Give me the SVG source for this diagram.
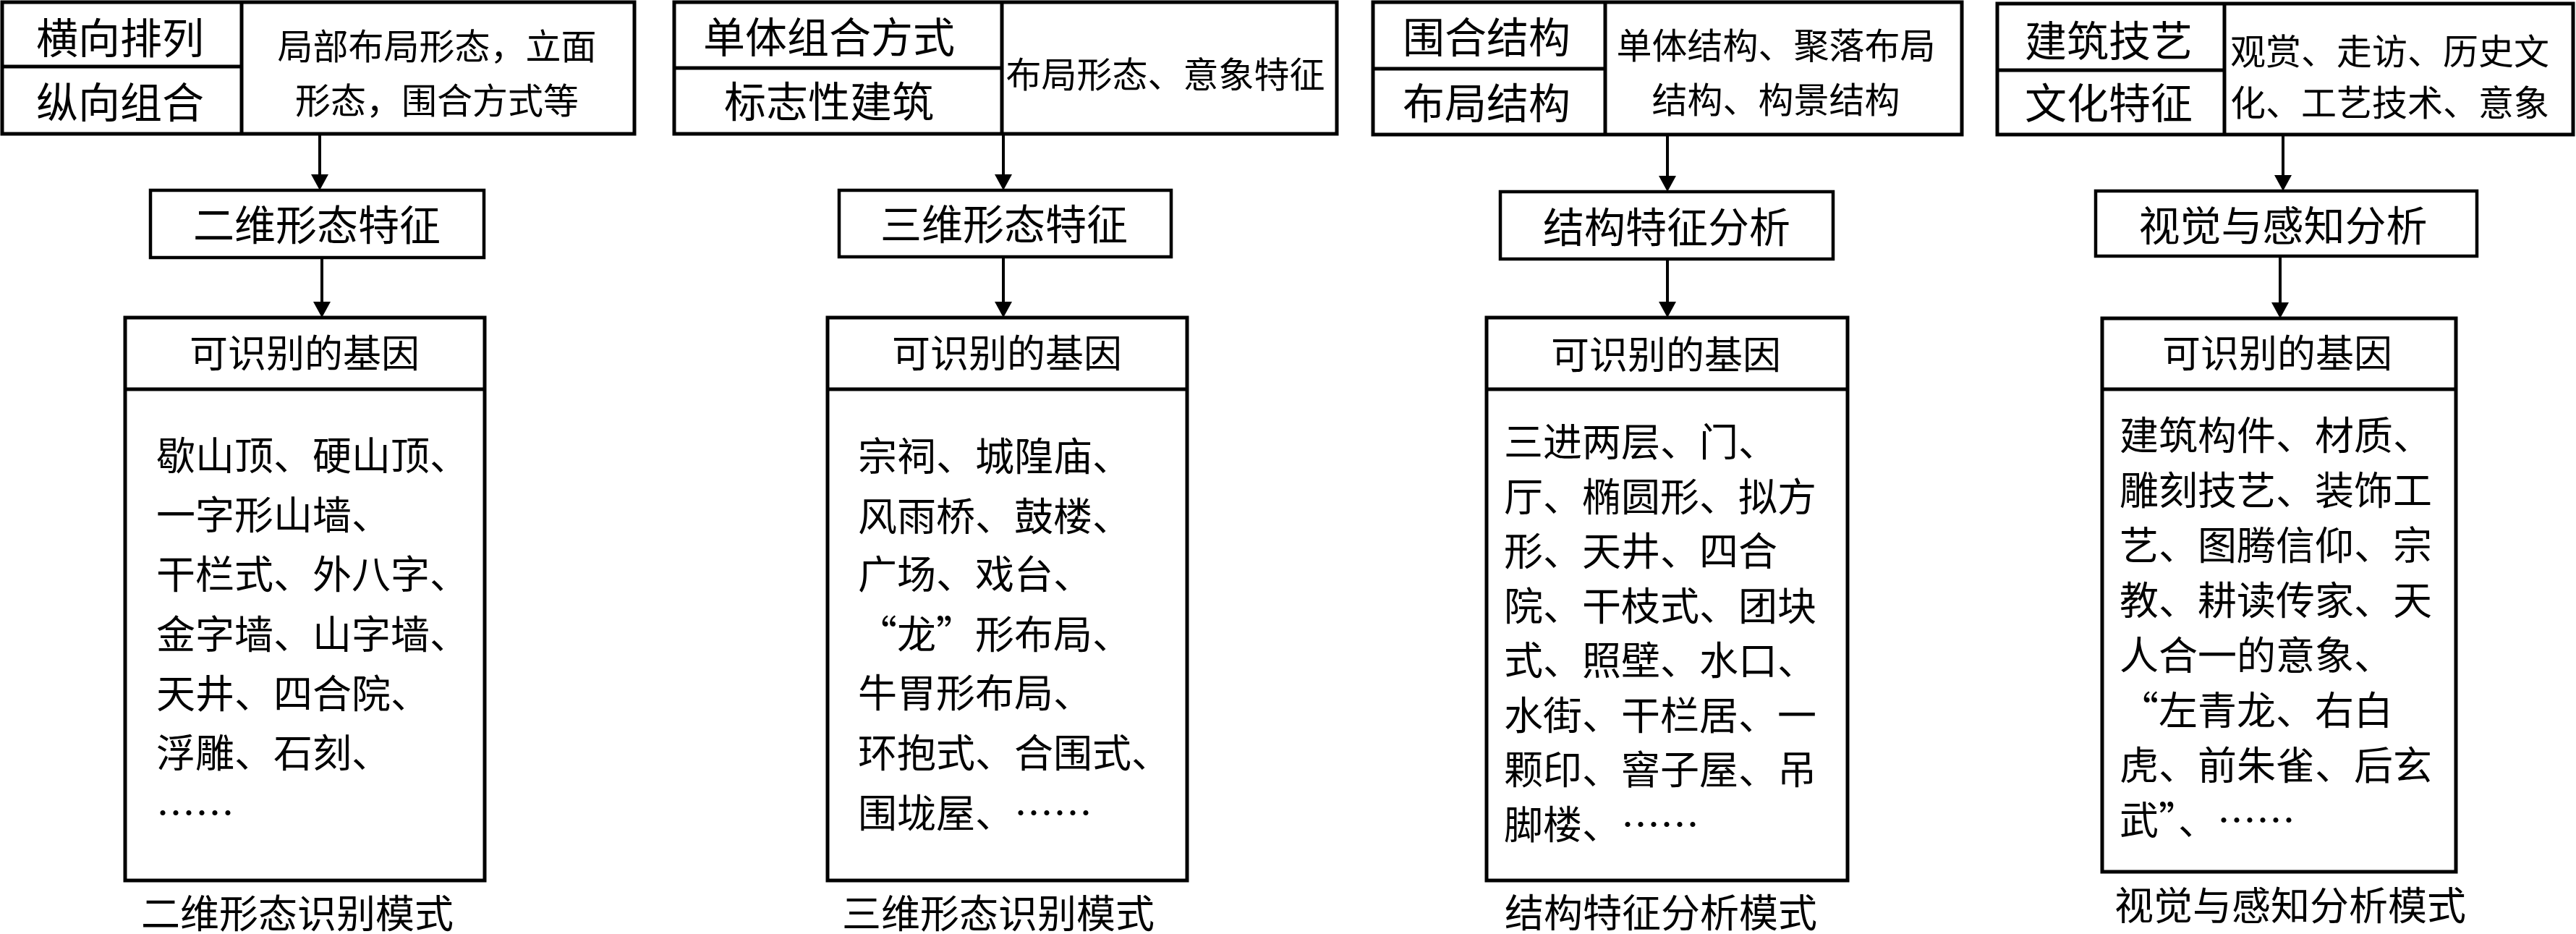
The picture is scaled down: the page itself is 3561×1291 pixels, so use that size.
<svg xmlns="http://www.w3.org/2000/svg" width="3561" height="1291" viewBox="0 0 3561 1291">
<defs>
<style>
.bg{fill:#fff}
.box{fill:#fff;stroke:#000;stroke-width:5}
.fbox{fill:#fff;stroke:#000;stroke-width:4.5}
.div{stroke:#000;stroke-width:5;fill:none}
.con{stroke:#000;stroke-width:4;fill:none}
text{font-family:"Liberation Serif","Noto Sans CJK SC",serif;fill:#000}
.cj{font-family:"Noto Sans CJK SC",sans-serif}
.k{font-size:58px;text-anchor:middle}
.d{font-size:49px}
.dm{font-size:49px;text-anchor:middle}
.f{font-size:57px;text-anchor:middle}
.h{font-size:53px;text-anchor:middle}
.b{font-size:54px}
.c{font-size:54px;text-anchor:middle}
</style>
<marker id="ah" markerUnits="userSpaceOnUse" markerWidth="22" markerHeight="24" viewBox="0 0 22 24" refX="12" refY="12" orient="auto"><path d="M0,0 L22,12 L0,24 z" fill="#000"/></marker>
</defs>
<rect class="bg" x="0" y="0" width="3561" height="1291"/>

<!-- Column 1 -->
<g id="top1">
<rect class="box" x="3" y="3" width="874" height="182"/>
<line class="div" x1="334" y1="3" x2="334" y2="185"/>
<line class="div" x1="3" y1="92" x2="334" y2="92"/>
<text class="k" x="166" y="74">横向排列</text>
<text class="k" x="166" y="163">纵向组合</text>
<text class="dm" x="604" y="82">局部布局形态，立面</text>
<text class="dm" x="604" y="157">形态，围合方式等</text>
</g>
<g id="feat1">
<rect class="fbox" x="208" y="263" width="461" height="93"/>
<text class="f" x="438" y="332">二维形态特征</text>
</g>
<g id="gene1">
<rect class="box" x="173" y="439" width="497" height="778"/>
<line class="div" x1="173" y1="538" x2="670" y2="538"/>
<text class="h" x="421" y="508">可识别的基因</text>
<text class="b" x="216" y="650">歇山顶、硬山顶、</text>
<text class="b" x="216" y="732">一字形山墙、</text>
<text class="b" x="216" y="814">干栏式、外八字、</text>
<text class="b" x="216" y="897">金字墙、山字墙、</text>
<text class="b" x="216" y="979">天井、四合院、</text>
<text class="b" x="216" y="1061">浮雕、石刻、</text>
<text class="b" x="216" y="1144"><tspan class="cj">……</tspan></text>
</g>
<g id="cap1"><text class="c" x="411" y="1283">二维形态识别模式</text></g>

<!-- Column 2 -->
<g id="top2">
<rect class="box" x="932" y="3" width="916" height="182"/>
<line class="div" x1="1385" y1="3" x2="1385" y2="185"/>
<line class="div" x1="932" y1="94" x2="1385" y2="94"/>
<text class="k" x="1146" y="73">单体组合方式</text>
<text class="k" x="1146" y="162">标志性建筑</text>
<text class="dm" x="1611" y="121">布局形态、意象特征</text>
</g>
<g id="feat2">
<rect class="fbox" x="1160" y="263" width="459" height="92"/>
<text class="f" x="1388" y="331">三维形态特征</text>
</g>
<g id="gene2">
<rect class="box" x="1144" y="439" width="497" height="778"/>
<line class="div" x1="1144" y1="538" x2="1641" y2="538"/>
<text class="h" x="1392" y="508">可识别的基因</text>
<text class="b" x="1186" y="651">宗祠、城隍庙、</text>
<text class="b" x="1186" y="734">风雨桥、鼓楼、</text>
<text class="b" x="1186" y="814">广场、戏台、</text>
<text class="b" x="1186" y="897"><tspan class="cj">“</tspan>龙<tspan class="cj">”</tspan>形布局、</text>
<text class="b" x="1186" y="978">牛胃形布局、</text>
<text class="b" x="1186" y="1061">环抱式、合围式、</text>
<text class="b" x="1186" y="1144">围垅屋、<tspan class="cj">……</tspan></text>
</g>
<g id="cap2"><text class="c" x="1380" y="1283">三维形态识别模式</text></g>

<!-- Column 3 -->
<g id="top3">
<rect class="box" x="1898" y="3" width="814" height="183"/>
<line class="div" x1="2219" y1="3" x2="2219" y2="186"/>
<line class="div" x1="1898" y1="95" x2="2219" y2="95"/>
<text class="k" x="2055" y="73">围合结构</text>
<text class="k" x="2055" y="164">布局结构</text>
<text class="dm" x="2455" y="81">单体结构、聚落布局</text>
<text class="dm" x="2455" y="156">结构、构景结构</text>
</g>
<g id="feat3">
<rect class="fbox" x="2074" y="265" width="460" height="93"/>
<text class="f" x="2304" y="335">结构特征分析</text>
</g>
<g id="gene3">
<rect class="box" x="2055" y="439" width="499" height="778"/>
<line class="div" x1="2055" y1="538" x2="2554" y2="538"/>
<text class="h" x="2303" y="510">可识别的基因</text>
<text class="b" x="2079" y="631">三进两层、门、</text>
<text class="b" x="2079" y="707">厅、椭圆形、拟方</text>
<text class="b" x="2079" y="782">形、天井、四合</text>
<text class="b" x="2079" y="858">院、干枝式、团块</text>
<text class="b" x="2079" y="933">式、照壁、水口、</text>
<text class="b" x="2079" y="1009">水街、干栏居、一</text>
<text class="b" x="2079" y="1084">颗印、窨子屋、吊</text>
<text class="b" x="2079" y="1160">脚楼、<tspan class="cj">……</tspan></text>
</g>
<g id="cap3"><text class="c" x="2296" y="1282">结构特征分析模式</text></g>

<!-- Column 4 -->
<g id="top4">
<rect class="box" x="2761" y="5" width="796" height="181"/>
<line class="div" x1="3075" y1="5" x2="3075" y2="186"/>
<line class="div" x1="2761" y1="97" x2="3075" y2="97"/>
<text class="k" x="2915" y="78">建筑技艺</text>
<text class="k" x="2915" y="164">文化特征</text>
<text class="d" x="3083" y="89">观赏、走访、历史文</text>
<text class="d" x="3083" y="160">化、工艺技术、意象</text>
</g>
<g id="feat4">
<rect class="fbox" x="2897" y="264" width="527" height="90"/>
<text class="f" x="3156" y="333">视觉与感知分析</text>
</g>
<g id="gene4">
<rect class="box" x="2906" y="440" width="489" height="765"/>
<line class="div" x1="2906" y1="538" x2="3395" y2="538"/>
<text class="h" x="3148" y="508">可识别的基因</text>
<text class="b" x="2930" y="622">建筑构件、材质、</text>
<text class="b" x="2930" y="698">雕刻技艺、装饰工</text>
<text class="b" x="2930" y="774">艺、图腾信仰、宗</text>
<text class="b" x="2930" y="850">教、耕读传家、天</text>
<text class="b" x="2930" y="926">人合一的意象、</text>
<text class="b" x="2930" y="1002"><tspan class="cj">“</tspan>左青龙、右白</text>
<text class="b" x="2930" y="1078">虎、前朱雀、后玄</text>
<text class="b" x="2930" y="1154">武<tspan class="cj">”</tspan>、<tspan class="cj">……</tspan></text>
</g>
<g id="cap4"><text class="c" x="3166" y="1272">视觉与感知分析模式</text></g>

<!-- Connectors -->
<g id="connectors">
<line class="con" x1="442" y1="185" x2="442" y2="253" marker-end="url(#ah)"/>
<line class="con" x1="445" y1="356" x2="445" y2="429" marker-end="url(#ah)"/>
<line class="con" x1="1387" y1="185" x2="1387" y2="253" marker-end="url(#ah)"/>
<line class="con" x1="1387" y1="355" x2="1387" y2="429" marker-end="url(#ah)"/>
<line class="con" x1="2305" y1="186" x2="2305" y2="255" marker-end="url(#ah)"/>
<line class="con" x1="2305" y1="358" x2="2305" y2="429" marker-end="url(#ah)"/>
<line class="con" x1="3156" y1="186" x2="3156" y2="254" marker-end="url(#ah)"/>
<line class="con" x1="3152" y1="354" x2="3152" y2="430" marker-end="url(#ah)"/>
</g>
</svg>
